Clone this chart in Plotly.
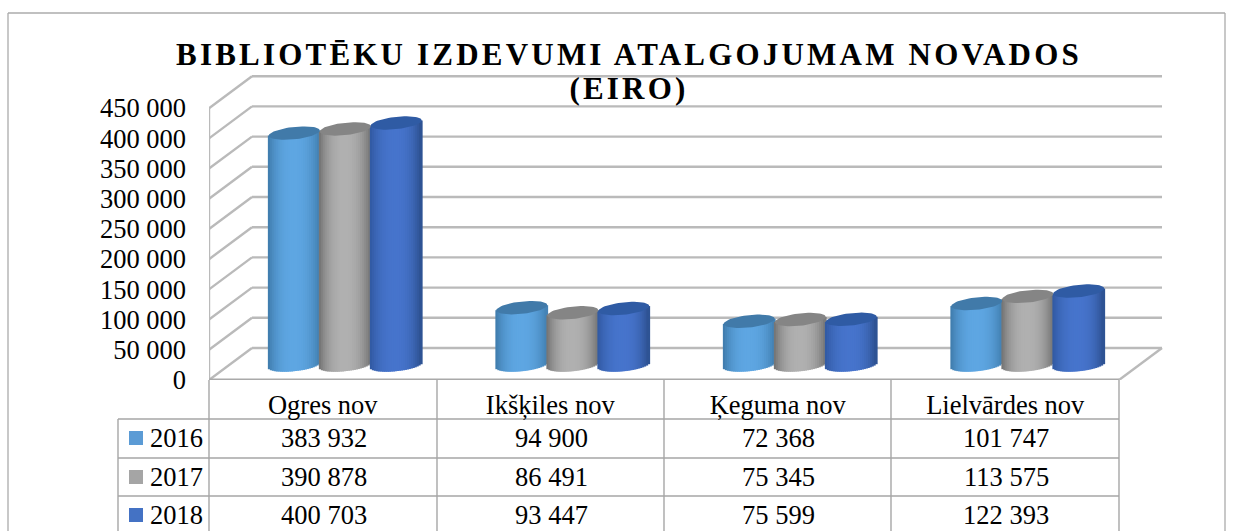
import math
import plotly.graph_objects as go

categories = ["Ogres nov", "Ikšķiles nov", "Ķeguma nov", "Lielvārdes nov"]
years = ["2016", "2017", "2018"]
values_2016 = [383932, 94900, 72368, 101747]
values_2017 = [390878, 86491, 75345, 113575]
values_2018 = [400703, 93447, 75599, 122393]
tick_values = [0, 50000, 100000, 150000, 200000, 250000, 300000, 350000, 400000, 450000]
title_line1 = "BIBLIOTĒKU IZDEVUMI ATALGOJUMAM NOVADOS"
title_line2 = "(EIRO)"

series = [values_2016, values_2017, values_2018]
swatch = ["#5B9BD5", "#A5A5A5", "#4472C4"]
edge_left = [(62, 122, 170), (112, 112, 112), (48, 88, 160)]
centre = [(94, 166, 226), (176, 176, 176), (70, 116, 204)]
edge_right = [(66, 128, 178), (118, 118, 118), (44, 80, 142)]
cap = ["#417AA9", "#858585", "#2F5BA4"]

W, H = 1238, 531
L, R, T0, B0 = 209, 1170, 0, 380      # plot area in pixels
CAT_PX = 227.5
K = 30.2 / 50000                      # pixels per unit
DX, DY = 43 / CAT_PX, 32 / K          # 3-D wall offset
BAR_W = 51 / CAT_PX
BASE = 15 / K                         # bars stand on the middle of the floor
GROUP_SHIFT = 22.5 / CAT_PX
ELL_B, TILT = 6.2 / K, 2.6 / K
N = 26
GRID = "#BABABA"
TBL = "#A6A6A6"
FONT = "Liberation Serif"


def xp(px):
    return (px - L) / (R - L)


def yp(py):
    return (B0 - py) / (B0 - T0)


def mix(a, b, f):
    return tuple(round(a[i] + (b[i] - a[i]) * f) for i in range(3))


fig = go.Figure()
for s, vals in enumerate(series):
    xs, ys, bases, cols = [], [], [], []
    cx, cy = [], []
    for c, v in enumerate(vals):
        mid = c + 0.5 + GROUP_SHIFT + (s - 1) * BAR_W
        for i in range(N):
            t = -1 + (i + 0.5) * 2 / N
            low = BASE - ELL_B * math.sqrt(1 - t * t) + TILT * t
            top = BASE + v + TILT * t
            xs.append(mid + t * BAR_W / 2)
            bases.append(low)
            ys.append(top - low)
            f = 1 - abs(t) ** 2.4
            col = mix(edge_left[s] if t < 0 else edge_right[s], centre[s], f)
            cols.append("rgb(%d,%d,%d)" % col)
        for j in range(61):
            a = 2 * math.pi * j / 60
            cx.append(mid + math.cos(a) * BAR_W / 2)
            cy.append(BASE + v + TILT * math.cos(a) + ELL_B * math.sin(a))
        cx.append(None)
        cy.append(None)
    fig.add_trace(go.Bar(x=xs, y=ys, base=bases, width=BAR_W / N * 1.9,
                         marker=dict(color=cols, line_width=0),
                         hoverinfo="skip", showlegend=False, name=years[s]))
    fig.add_trace(go.Scatter(x=cx, y=cy, mode="lines", fill="toself", fillcolor=cap[s],
                             line=dict(width=0, color=cap[s]),
                             hoverinfo="skip", showlegend=False))

shapes = []


def line(x0, y0, x1, y1, color=GRID, width=2.4, ref="x", layer="below"):
    shapes.append(dict(type="line", xref=ref, yref="y" if ref == "x" else "paper",
                       x0=x0, y0=y0, x1=x1, y1=y1, layer=layer,
                       line=dict(color=color, width=width)))


ncat = len(categories)
for tv in tick_values:
    line(0, tv, DX, tv + DY)
    line(DX, tv + DY, ncat + DX, tv + DY)
line(0, 0, 0, tick_values[-1])
line(0, 0, ncat, 0, color="#A9A9A9", width=2.8)
line(ncat, 0, ncat + DX, DY)

# data table frame
for px in [209, 437, 664, 891, 1119]:
    line(xp(px), yp(380), xp(px), yp(531), color=TBL, width=1.4, ref="paper")
line(xp(118), yp(419), xp(118), yp(531), color=TBL, width=1.4, ref="paper")
for py in [419, 458, 496]:
    line(xp(118), yp(py), xp(1119), yp(py), color=TBL, width=1.4, ref="paper")
# outer chart frame
line(xp(8), yp(13), xp(1225), yp(13), color="#ABABAB", width=1.3, ref="paper")
line(xp(8), yp(13), xp(8), yp(531), color="#ABABAB", width=1.3, ref="paper")
line(xp(1225), yp(13), xp(1225), yp(531), color="#ABABAB", width=1.3, ref="paper")

rows_py = [438, 477, 515]
annotations = [dict(xref="paper", yref="paper", x=xp(629), y=yp(89), text=title_line2,
                    showarrow=False, xanchor="center", yanchor="middle",
                    font=dict(family=FONT, size=31, color="#000000", weight="bold"))]
for s, vals in enumerate(series):
    py = rows_py[s]
    shapes.append(dict(type="rect", xref="paper", yref="paper",
                       x0=xp(129), x1=xp(143), y0=yp(py - 7), y1=yp(py + 7),
                       fillcolor=swatch[s], line_width=0))
    annotations.append(dict(xref="paper", yref="paper", x=xp(148), y=yp(py), text=years[s],
                            showarrow=False, xanchor="left", yanchor="middle",
                            font=dict(family=FONT, size=26.5, color="#000000")))
    for c, v in enumerate(vals):
        annotations.append(dict(xref="x", yref="paper", x=c + 0.5 + 1 / CAT_PX, y=yp(py),
                                text=f"{v:,}".replace(",", " "), showarrow=False,
                                xanchor="center", yanchor="middle",
                                font=dict(family=FONT, size=26.5, color="#000000")))

fig.update_layout(
    width=W, height=H, autosize=False,
    margin=dict(l=L, r=W - R, t=T0, b=H - B0, pad=0),
    paper_bgcolor="white", plot_bgcolor="white",
    barmode="overlay", separators=". ", showlegend=False,
    title=dict(text=title_line1, x=629 / W, xanchor="center", xref="container",
               y=1 - 54 / H, yanchor="middle",
               font=dict(family=FONT, size=31, color="#000000", weight="bold")),
    xaxis=dict(range=[0, (R - L) / CAT_PX], showgrid=False, zeroline=False, showline=False,
               tickmode="array", tickvals=[i + 0.5 for i in range(ncat)], ticktext=categories,
               ticks="", ticklabelstandoff=6,
               tickfont=dict(family=FONT, size=26.5, color="#000000")),
    yaxis=dict(range=[0, (B0 - T0) / K], showgrid=False, zeroline=False, showline=False,
               tickmode="array", tickvals=tick_values, tickformat=",d", ticks="",
               ticklabelstandoff=22,
               tickfont=dict(family=FONT, size=26.5, color="#000000")),
    shapes=shapes, annotations=annotations,
)

fig.write_html(
    "out.html",
    config={"displayModeBar": False},
    post_script="document.body.style.margin='0';document.body.style.overflow='hidden';"
                "document.querySelectorAll('.gtitle').forEach(function(e){e.style.letterSpacing='3.2px';});"
                "document.querySelectorAll('.annotation-text').forEach(function(e){"
                "if(e.textContent==='(EIRO)'){e.style.letterSpacing='3.2px';}});",
)
